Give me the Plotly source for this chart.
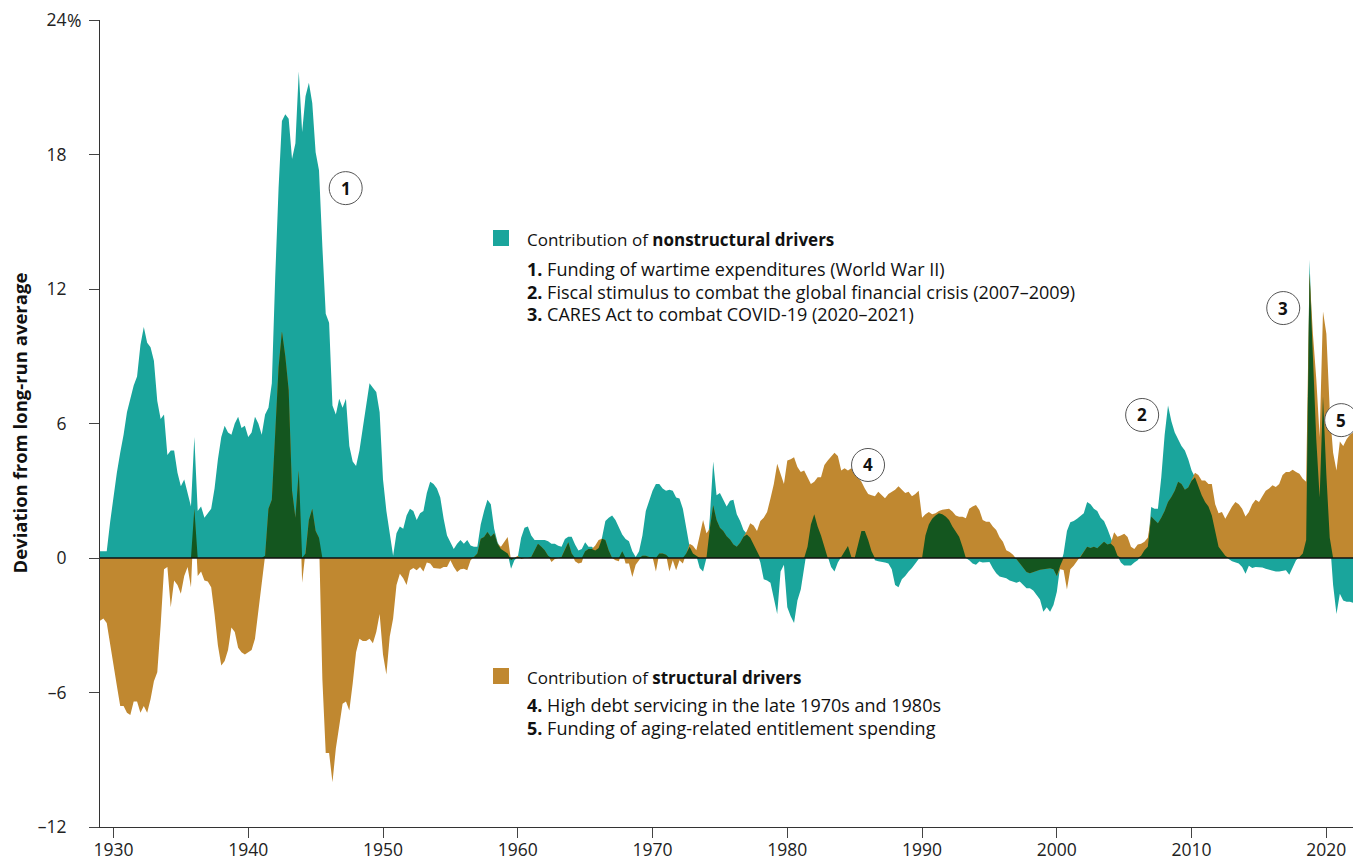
import numpy as np
import plotly.graph_objects as go

# Quarterly observations, starting 1929 Q1
start_year = 1929.0
step = 0.25

nonstructural = [
    0.3, 0.3, 0.3, 1.6,        # 1929
    2.8, 3.8, 4.7, 5.5,        # 1930
    6.5, 7.1, 7.7, 8.1,        # 1931
    9.5, 10.3, 9.6, 9.4,       # 1932
    8.8, 7.0, 6.2, 6.4,        # 1933
    4.6, 4.8, 4.8, 3.8,        # 1934
    3.2, 3.5, 2.9, 2.3,        # 1935
    5.4, 2.1, 2.3, 1.8,        # 1936
    2.0, 2.2, 3.1, 4.4,        # 1937
    5.4, 5.9, 5.6, 5.5,        # 1938
    6.0, 6.3, 5.8, 5.9,        # 1939
    5.4, 5.6, 6.3, 6.0,        # 1940
    5.5, 6.4, 6.7, 7.8,        # 1941
    12.5, 16.5, 19.5, 19.8,    # 1942
    19.6, 17.8, 18.5, 21.7,    # 1943
    19.0, 20.6, 21.2, 20.3,    # 1944
    18.1, 17.3, 13.9, 10.9,    # 1945
    10.5, 6.8, 6.4, 7.1,       # 1946
    6.7, 7.1, 5.0, 4.3,        # 1947
    4.1, 4.8, 5.8, 6.9,        # 1948
    7.8, 7.6, 7.4, 6.5,        # 1949
    3.5, 2.1, 1.0, 0.1,        # 1950
    1.1, 1.4, 1.3, 1.9,        # 1951
    2.2, 2.1, 1.7, 2.0,        # 1952
    2.1, 2.9, 3.4, 3.3,        # 1953
    3.1, 2.7, 1.75, 1.0,       # 1954
    0.7, 0.4, 0.64, 0.8,       # 1955
    0.64, 0.8, 0.56, 0.5,      # 1956
    0.5, 1.5, 2.1, 2.6,        # 1957
    2.4, 1.3, 0.7, 0.4,        # 1958
    0.3, 0.2, -0.48, -0.1,     # 1959
    0.05, 0.9, 1.35, 1.4,      # 1960
    1.0, 0.8, 0.8, 0.8,        # 1961
    0.8, 0.75, 0.64, 0.64,     # 1962
    0.55, 0.5, 0.85, 0.95,     # 1963
    0.95, 0.6, 0.34, 0.4,      # 1964
    0.7, 0.5, 0.5, 0.34,       # 1965
    0.45, 0.9, 1.65, 1.8,      # 1966
    1.9, 1.7, 1.35, 1.05,      # 1967
    0.85, 0.75, 0.3, 0.05,     # 1968
    0.3, 1.0, 2.1, 2.6,        # 1969
    3.0, 3.3, 3.3, 3.1,        # 1970
    3.0, 3.05, 3.0, 2.7,       # 1971
    2.65, 2.2, 1.4, 0.5,       # 1972
    0.2, 0.1, -0.45, -0.6,     # 1973
    0.0, 1.8, 4.3, 2.8,        # 1974
    2.9, 2.6, 2.3, 2.55,       # 1975
    2.6, 1.95, 1.65, 1.25,     # 1976
    1.05, 0.9, 0.6, 0.25,      # 1977
    -0.2, -0.95, -1.0, -1.1,   # 1978
    -1.8, -2.5, -0.6, -0.3,    # 1979
    -2.2, -2.6, -2.9, -1.9,    # 1980
    -1.4, -0.5, 0.5, 1.5,      # 1981
    1.95, 1.4, 1.0, 0.5,       # 1982
    0.0, -0.4, -0.6, -0.2,     # 1983
    0.05, 0.3, 0.54, 0.05,     # 1984
    0.0, 0.6, 1.2, 1.2,        # 1985
    0.8, 0.3, -0.1, -0.15,     # 1986
    -0.16, -0.2, -0.24, -0.5,  # 1987
    -1.2, -1.3, -0.95, -0.8,   # 1988
    -0.6, -0.45, -0.25, -0.05, # 1989
    0.0, 1.0, 1.5, 1.75,       # 1990
    1.9, 2.0, 1.95, 1.85,      # 1991
    1.7, 1.4, 1.17, 0.95,      # 1992
    0.5, 0.0, -0.1, -0.24,     # 1993
    -0.3, -0.16, -0.2, -0.2,   # 1994
    -0.18, -0.46, -0.68, -0.83,# 1995
    -0.85, -0.9, -1.0, -1.05,  # 1996
    -1.1, -1.05, -1.22, -1.35, # 1997
    -1.35, -1.45, -1.65, -1.85,# 1998
    -2.4, -2.2, -2.4, -2.1,    # 1999
    -1.5, -0.35, 0.2, 1.2,     # 2000
    1.6, 1.65, 1.75, 1.87,     # 2001
    2.0, 2.5, 2.4, 2.2,        # 2002
    2.1, 1.8, 1.65, 1.3,       # 2003
    0.9, 0.5, 0.1, -0.2,       # 2004
    -0.33, -0.33, -0.33, -0.2, # 2005
    -0.1, 0.1, 0.35, 0.5,      # 2006
    2.27, 2.2, 2.2, 3.6,       # 2007
    5.5, 6.8, 6.1, 5.6,        # 2008
    5.3, 5.0, 4.8, 4.4,        # 2009
    3.9, 3.6, 3.2, 2.8,        # 2010
    2.5, 2.3, 1.9, 1.2,        # 2011
    0.5, 0.3, 0.1, -0.05,      # 2012
    -0.15, -0.2, -0.25, -0.4,  # 2013
    -0.7, -0.35, -0.45, -0.4,  # 2014
    -0.4, -0.42, -0.48, -0.52, # 2015
    -0.55, -0.6, -0.6, -0.58,  # 2016
    -0.55, -0.75, -0.4, -0.1,  # 2017
    0.05, 0.2, 0.8, 13.3,      # 2018
    9.0, 5.3, 2.7, 7.2,        # 2019
    3.7, 0.9, -1.2, -2.5,      # 2020
    -1.6, -1.9, -1.95, -1.95,  # 2021
    -2.0,                      # 2022
]

structural = [
    -2.8, -2.7, -2.9, -3.9,    # 1929
    -4.9, -5.7, -6.6, -6.6,    # 1930
    -6.9, -7.0, -6.4, -6.4,    # 1931
    -6.9, -6.6, -6.9, -6.3,    # 1932
    -5.5, -5.1, -3.0, -0.5,    # 1933
    -0.4, -2.2, -1.0, -1.2,    # 1934
    -1.6, -0.8, -0.4, -1.3,    # 1935
    2.2, -0.8, -0.6, -1.0,     # 1936
    -1.05, -1.3, -2.5, -3.9,   # 1937
    -4.8, -4.6, -4.1, -3.1,    # 1938
    -3.3, -4.0, -4.2, -4.3,    # 1939
    -4.2, -4.1, -3.6, -2.4,    # 1940
    -1.2, 0.1, 2.2, 2.6,       # 1941
    5.5, 8.5, 10.1, 9.0,       # 1942
    7.5, 3.0, 1.8, 3.9,        # 1943
    -1.1, 0.2, 1.7, 2.2,       # 1944
    1.2, 0.9, -5.4, -8.7,      # 1945
    -8.7, -10.0, -8.5, -7.5,   # 1946
    -6.5, -6.4, -6.8, -5.6,    # 1947
    -4.2, -3.6, -3.7, -3.7,    # 1948
    -3.6, -3.8, -3.3, -2.5,    # 1949
    -4.3, -5.2, -3.5, -2.7,    # 1950
    -1.2, -0.7, -0.9, -1.2,    # 1951
    -0.55, -0.45, -0.55, -0.4, # 1952
    -0.6, -0.2, -0.25, -0.45,  # 1953
    -0.48, -0.48, -0.4, -0.4,  # 1954
    -0.1, -0.4, -0.62, -0.5,   # 1955
    -0.48, -0.55, -0.1, 0.05,  # 1956
    0.2, 0.86, 0.94, 1.16,     # 1957
    0.95, 1.1, 0.64, 0.5,      # 1958
    0.7, 0.94, -0.1, 0.0,      # 1959
    0.1, -0.05, 0.0, 0.0,      # 1960
    0.05, 0.35, 0.64, 0.5,     # 1961
    0.35, 0.1, -0.18, -0.05,   # 1962
    0.0, 0.05, 0.4, 0.7,       # 1963
    0.2, -0.15, -0.25, -0.2,   # 1964
    0.3, 0.4, 0.4, 0.56,       # 1965
    0.8, 0.86, 0.8, 0.34,      # 1966
    0.0, -0.1, -0.15, 0.3,     # 1967
    -0.25, -0.25, -0.85, -0.3, # 1968
    -0.1, 0.1, 0.1, 0.05,      # 1969
    0.05, -0.6, 0.2, 0.2,      # 1970
    0.15, -0.6, -0.1, -0.55,   # 1971
    -0.1, -0.25, 0.2, 0.64,    # 1972
    0.55, 0.35, 1.0, 1.7,      # 1973
    1.1, 1.3, 2.35, 1.7,       # 1974
    1.35, 1.2, 0.97, 0.82,     # 1975
    0.6, 0.5, 0.68, 0.95,      # 1976
    1.2, 1.55, 1.45, 1.2,      # 1977
    1.65, 1.8, 2.05, 2.65,     # 1978
    3.3, 4.2, 3.76, 3.3,       # 1979
    4.35, 4.4, 4.5, 4.06,      # 1980
    3.84, 3.9, 3.6, 3.3,       # 1981
    3.4, 3.6, 3.6, 4.15,       # 1982
    4.35, 4.55, 4.7, 4.55,     # 1983
    3.9, 4.0, 3.9, 4.0,        # 1984
    3.9, 3.6, 3.4, 3.1,        # 1985
    2.85, 2.8, 2.75, 2.95,     # 1986
    2.8, 2.66, 2.85, 2.95,     # 1987
    3.05, 3.2, 3.05, 2.9,      # 1988
    2.95, 2.75, 2.85, 3.0,     # 1989
    1.8, 1.95, 2.05, 1.95,     # 1990
    2.0, 2.1, 2.15, 2.17,      # 1991
    2.2, 2.07, 1.9, 1.84,      # 1992
    1.84, 1.77, 2.2, 2.3,      # 1993
    2.36, 2.14, 1.7, 1.62,     # 1994
    1.62, 1.4, 1.25, 0.93,     # 1995
    0.73, 0.35, 0.27, 0.15,    # 1996
    -0.05, -0.25, -0.45, -0.62,# 1997
    -0.68, -0.62, -0.55, -0.52,# 1998
    -0.5, -0.47, -0.46, -0.5,  # 1999
    -0.8, -0.5, -0.54, -1.4,   # 2000
    -0.5, -0.35, -0.15, 0.05,  # 2001
    0.25, 0.5, 0.45, 0.5,      # 2002
    0.43, 0.58, 0.73, 0.6,     # 2003
    0.65, 1.15, 0.95, 1.0,     # 2004
    1.08, 0.94, 0.5, 0.4,      # 2005
    0.6, 0.64, 0.72, 0.9,      # 2006
    1.85, 1.7, 1.55, 1.8,      # 2007
    2.1, 2.5, 2.72, 3.0,       # 2008
    3.4, 3.3, 3.05, 3.15,      # 2009
    3.45, 3.8, 3.7, 3.46,      # 2010
    3.46, 3.3, 3.3, 2.4,       # 2011
    2.0, 2.05, 1.75, 2.05,     # 2012
    2.3, 2.5, 2.4, 2.2,        # 2013
    1.85, 2.05, 2.4, 2.6,      # 2014
    2.5, 2.75, 3.0, 3.1,       # 2015
    3.24, 3.17, 3.3, 3.7,      # 2016
    3.84, 3.84, 3.94, 3.84,    # 2017
    3.76, 3.54, 3.4, 12.7,     # 2018
    10.0, 8.0, 5.4, 11.0,      # 2019
    10.0, 6.6, 4.7, 3.9,       # 2020
    5.2, 5.0, 5.3, 5.5,        # 2021
    5.6,                       # 2022
]

y_tick_vals = [24, 18, 12, 6, 0, -6, -12]
y_tick_text = ["24", "18", "12", "6", "0", "\u20136", "\u201312"]
y_unit = "%"
x_tick_vals = [1930, 1940, 1950, 1960, 1970, 1980, 1990, 2000, 2010, 2020]

notes_nonstructural = [
    "<b>1.</b> Funding of wartime expenditures (World War II)",
    "<b>2.</b> Fiscal stimulus to combat the global financial crisis (2007\u20132009)",
    "<b>3.</b> CARES Act to combat COVID-19 (2020\u20132021)",
]
notes_structural = [
    "<b>4.</b> High debt servicing in the late 1970s and 1980s",
    "<b>5.</b> Funding of aging-related entitlement spending",
]
# callout labels: (label, year, value)
callouts = [("1", 1947.23, 16.5), ("2", 2006.33, 6.38), ("3", 2016.8, 11.15),
            ("4", 1985.99, 4.15), ("5", 2021.1, 6.15)]

TEAL = "#1aa59c"
GOLD = "#c08830"
DARK = "#14561f"
FONT = "Open Sans"

n = np.array(nonstructural, dtype=float)
s = np.array(structural, dtype=float)
m = min(len(n), len(s))
n, s = n[:m], s[:m]
x = start_year + step * np.arange(m)

same = np.sign(n) == np.sign(s)
overlap = np.where(same, np.sign(n) * np.minimum(np.abs(n), np.abs(s)), 0.0)

fig = go.Figure()
for vals, col in [(n, TEAL), (s, GOLD), (overlap, DARK)]:
    fig.add_trace(go.Scatter(x=x, y=vals, mode="lines", line=dict(width=0, color=col),
                             fill="tozeroy", fillcolor=col, hoverinfo="skip", showlegend=False))

# the page body adds an 8px offset; figure sized to fit the 1361x861 viewport
OFF = 8
W, H = 1353, 853
L, R, T, B = 92, 7, 12, 34
pw, ph = W - L - R, H - T - B
X0, X1 = 1929.0, 2022.05
Y0, Y1 = -12, 24


def px(xs):
    return (xs - OFF - L) / pw


def py(ys):
    return (H - B - (ys - OFF)) / ph


def dx(year):
    return (year - X0) / (X1 - X0)


def dy(v):
    return (v - Y0) / (Y1 - Y0)


TICKFONT = dict(size=17.5, color="#222")
fig.update_layout(
    width=W, height=H, margin=dict(l=L, r=R, t=T, b=B, autoexpand=False),
    paper_bgcolor="white", plot_bgcolor="white",
    font=dict(family=FONT, color="#222", size=16),
    xaxis=dict(range=[X0, X1], tickvals=x_tick_vals, ticks="outside", ticklen=10,
               tickcolor="#444", tickwidth=1, showline=True, linecolor="#333", linewidth=1,
               showgrid=False, zeroline=False, automargin=False, ticklabelstandoff=-3,
               ticklabeloverflow="allow", tickfont=TICKFONT),
    yaxis=dict(range=[Y0, Y1], tickvals=y_tick_vals, ticktext=y_tick_text, ticks="outside",
               ticklen=10, tickcolor="#444", tickwidth=1, showline=True, linecolor="#333",
               linewidth=1, showgrid=False, zeroline=False, automargin=False,
               ticklabelstandoff=19, ticklabeloverflow="allow", tickfont=TICKFONT),
)

shapes = [
    dict(type="line", xref="paper", yref="y", x0=0, x1=1, y0=0, y1=0,
         line=dict(color="#111", width=1.6), layer="above"),
    dict(type="rect", xref="paper", yref="paper", x0=px(493), x1=px(509), y0=py(246), y1=py(230),
         fillcolor=TEAL, line=dict(width=0)),
    dict(type="rect", xref="paper", yref="paper", x0=px(493), x1=px(509), y0=py(684), y1=py(668),
         fillcolor=GOLD, line=dict(width=0)),
]
annotations = [
    dict(x=px(19), y=0.5, xref="paper", yref="paper", textangle=-90, showarrow=False,
         xanchor="center", yanchor="middle", text="<b>Deviation from long-run average</b>",
         font=dict(size=18.5, color="#111")),
    dict(x=px(65.5), y=dy(y_tick_vals[0]), xref="paper", yref="paper", showarrow=False,
         xanchor="left", yanchor="middle", text=y_unit, font=TICKFONT, borderpad=0),
]
for lab, cx, cy in callouts:
    shapes.append(dict(type="circle", xref="paper", yref="paper", xsizemode="pixel",
                       ysizemode="pixel", xanchor=dx(cx), yanchor=dy(cy),
                       x0=-16.5, x1=16.5, y0=-16.5, y1=16.5,
                       fillcolor="white", line=dict(color="#555", width=1), layer="above"))
    annotations.append(dict(x=dx(cx), y=dy(cy), xref="paper", yref="paper",
                            text="<b>" + lab + "</b>", showarrow=False,
                            xanchor="center", yanchor="middle",
                            font=dict(size=17, color="#111")))

annotations.append(dict(x=px(525), y=py(239), xref="paper", yref="paper", xanchor="left",
                        yanchor="middle", showarrow=False,
                        text="Contribution of <b>nonstructural drivers</b>",
                        font=dict(size=17, color="#111")))
for i, t in enumerate(notes_nonstructural):
    annotations.append(dict(x=px(525), y=py(269 + 22.5 * i), xref="paper", yref="paper",
                            xanchor="left", yanchor="middle", showarrow=False, text=t,
                            font=dict(size=18, color="#111")))
annotations.append(dict(x=px(525), y=py(677), xref="paper", yref="paper", xanchor="left",
                        yanchor="middle", showarrow=False,
                        text="Contribution of <b>structural drivers</b>",
                        font=dict(size=17, color="#111")))
for i, t in enumerate(notes_structural):
    annotations.append(dict(x=px(525), y=py(705 + 22.5 * i), xref="paper", yref="paper",
                            xanchor="left", yanchor="middle", showarrow=False, text=t,
                            font=dict(size=18, color="#111")))

fig.update_layout(shapes=shapes, annotations=annotations)
fig.write_html("out.html")
